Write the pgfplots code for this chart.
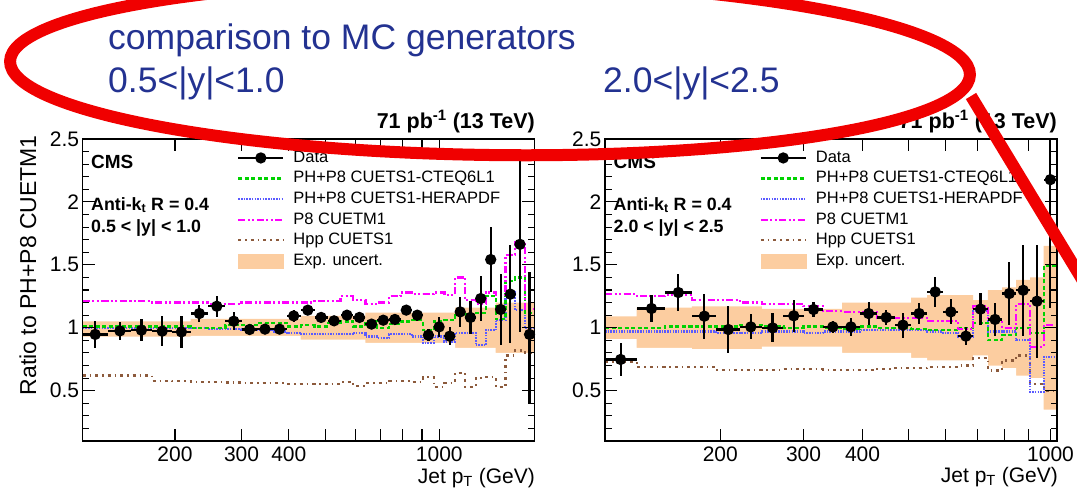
\documentclass[border=0pt]{standalone}
\usepackage{fontspec}
\setmainfont{Liberation Sans}
\usepackage{pgfplots}
\pgfplotsset{compat=1.18}
\usepackage{pgfplotstable}
\newcommand\fs[1]{\fontsize{#1}{#1}\selectfont}
\definecolor{cmsgreen}{RGB}{0,210,0}
\definecolor{cmsblue}{RGB}{90,90,255}
\definecolor{cmsmag}{RGB}{255,0,255}
\definecolor{cmsbrown}{RGB}{140,90,60}
\definecolor{band}{RGB}{252,205,160}
\definecolor{titleblue}{RGB}{35,50,145}
\definecolor{annot}{RGB}{240,0,0}

% left panel, MC histograms (left bin edge, value) and exp. uncertainty band
\pgfplotstableread{
e g b m h bu bd
114 1.01 1.00 1.21 0.62 1.05 0.93
133 1.01 1.00 1.21 0.62 1.05 0.93
153 1.01 1.00 1.21 0.62 1.05 0.93
174 1.01 1.00 1.20 0.58 1.05 0.93
196 1.01 1.00 1.20 0.575 1.05 0.93
220 1.00 0.995 1.20 0.57 1.07 0.935
245 1.00 0.99 1.19 0.57 1.07 0.935
272 1.02 0.99 1.19 0.565 1.07 0.935
300 1.02 0.985 1.20 0.56 1.07 0.935
330 1.04 0.985 1.20 0.56 1.07 0.935
362 1.04 0.97 1.20 0.56 1.07 0.935
395 1.01 0.96 1.20 0.555 1.07 0.935
430 1.02 0.95 1.20 0.555 1.095 0.905
468 1.01 0.95 1.215 0.555 1.095 0.905
507 1.04 0.95 1.215 0.555 1.095 0.905
548 1.05 0.95 1.25 0.57 1.095 0.905
592 1.01 0.96 1.22 0.54 1.095 0.905
638 1.05 0.93 1.19 0.56 1.12 0.88
686 1.00 0.92 1.20 0.56 1.12 0.88
737 1.03 0.95 1.25 0.58 1.12 0.88
790 1.05 0.95 1.28 0.58 1.12 0.88
846 1.06 0.93 1.27 0.57 1.12 0.88
905 0.98 0.88 1.27 0.61 1.12 0.88
967 1.05 0.93 1.28 0.53 1.12 0.88
1032 1.06 0.89 1.26 0.56 1.12 0.88
1101 1.10 0.96 1.40 0.64 1.16 0.84
1172 1.11 0.96 1.22 0.53 1.16 0.84
1248 1.12 0.86 1.19 0.60 1.16 0.84
1327 1.25 0.98 1.28 0.61 1.16 0.84
1410 1.07 1.06 1.26 0.53 1.20 0.80
1497 1.37 1.28 1.58 0.78 1.20 0.80
1588 1.40 1.14 1.68 0.82 1.20 0.80
1684 1.12 1.00 1.15 0.80 1.20 0.80
1784 1.12 1.00 1.15 0.80 1.20 0.80
}\mcL

% left panel, data
\pgfplotstableread{
x y lo hi eym eyp
123 0.947 114 133 0.11 0.11
143 0.975 133 153 0.07 0.07
163 0.981 153 174 0.09 0.09
185 0.973 174 196 0.12 0.12
208 0.967 196 220 0.13 0.13
232 1.113 220 245 0.07 0.07
258 1.171 245 272 0.085 0.085
286 1.052 272 300 0.07 0.07
315 0.986 300 330 0.02 0.02
346 0.989 330 362 0.025 0.025
378 0.989 362 395 0.025 0.025
412 1.094 395 430 0.045 0.045
449 1.14 430 468 0.03 0.03
487 1.082 468 507 0.03 0.03
527 1.055 507 548 0.02 0.02
570 1.10 548 592 0.03 0.03
615 1.082 592 638 0.03 0.03
662 1.029 638 686 0.03 0.03
711 1.06 686 737 0.03 0.03
763 1.066 737 790 0.03 0.03
818 1.14 790 846 0.04 0.04
875 1.10 846 905 0.045 0.045
936 0.941 905 967 0.05 0.05
999 1.007 967 1032 0.08 0.08
1066 0.933 1032 1101 0.07 0.07
1136 1.126 1101 1172 0.12 0.12
1209 1.082 1172 1248 0.13 0.13
1287 1.232 1248 1327 0.18 0.18
1368 1.542 1327 1410 0.26 0.26
1453 1.145 1410 1497 0.28 0.28
1542 1.267 1497 1588 0.39 0.39
1635 1.663 1588 1684 0.70 0.70
1733 0.947 1684 1784 0.55 0.50
}\dataL

% right panel, MC histograms and band
\pgfplotstableread{
e g b m h bu bd
114 1.00 0.97 1.267 0.73 1.09 0.91
133 1.00 0.97 1.25 0.69 1.16 0.84
153 1.01 0.97 1.26 0.69 1.16 0.84
174 1.01 0.97 1.22 0.69 1.17 0.83
196 1.01 0.96 1.22 0.665 1.17 0.83
220 1.02 0.96 1.20 0.665 1.17 0.83
245 1.01 0.97 1.19 0.665 1.15 0.85
272 1.00 0.97 1.19 0.67 1.15 0.85
300 1.01 0.96 1.17 0.67 1.15 0.85
330 1.00 0.97 1.13 0.665 1.15 0.85
362 0.99 0.97 1.126 0.665 1.20 0.80
395 1.01 0.98 1.126 0.665 1.20 0.80
430 1.00 0.98 1.08 0.67 1.20 0.80
468 1.00 0.98 1.08 0.68 1.20 0.80
507 0.99 0.98 1.08 0.68 1.24 0.76
548 0.98 0.97 1.055 0.69 1.26 0.74
592 0.98 0.96 1.055 0.69 1.26 0.74
638 1.00 0.93 0.99 0.70 1.26 0.74
686 1.04 1.13 1.17 0.76 1.22 0.78
737 0.90 0.97 1.07 0.66 1.30 0.70
790 0.94 0.97 1.00 0.74 1.32 0.68
846 1.00 0.90 1.19 0.78 1.38 0.62
905 0.96 0.49 0.85 0.55 1.40 0.60
967 1.49 0.77 1.02 0.50 1.65 0.35
1032 1.49 0.77 1.02 0.50 1.65 0.35
}\mcR

% right panel, data
\pgfplotstableread{
x y lo hi eym eyp
123 0.748 114 133 0.13 0.13
143 1.153 133 153 0.11 0.11
163 1.28 153 174 0.15 0.15
185 1.092 174 196 0.18 0.18
208 0.986 196 220 0.19 0.19
232 1.007 220 245 0.10 0.10
258 0.999 245 272 0.115 0.115
286 1.095 272 300 0.125 0.125
315 1.145 300 330 0.06 0.06
346 1.007 330 362 0.05 0.05
378 1.007 362 395 0.07 0.07
412 1.113 395 430 0.09 0.09
449 1.082 430 468 0.06 0.06
487 1.021 468 507 0.10 0.10
527 1.113 507 548 0.08 0.08
570 1.285 548 592 0.12 0.12
615 1.126 592 638 0.10 0.10
662 0.933 638 686 0.07 0.07
711 1.148 686 737 0.13 0.13
763 1.066 737 790 0.13 0.13
818 1.272 790 846 0.25 0.25
875 1.298 846 905 0.36 0.36
936 1.211 905 967 0.45 0.45
999 2.177 967 1032 1.02 0.33
}\dataR

\tikzset{
  gline/.style={cmsgreen, line width=2.2pt, dash pattern=on 4pt off 2.5pt},
  bline/.style={cmsblue, line width=2.2pt, dash pattern=on 1.5pt off 1.2pt},
  mline/.style={cmsmag, line width=2.2pt, dash pattern=on 7pt off 2.5pt on 2pt off 2.5pt on 2pt off 2.5pt},
  hline/.style={cmsbrown, line width=2.2pt, dash pattern=on 3pt off 4pt on 1.5pt off 4pt},
  dstyle/.style={black, line width=2.2pt, mark=*, mark size=4.5pt},
}
\pgfplotsset{
  legline/.style={legend image code/.code={\draw[##1] (0pt,0pt) -- (45pt,0pt);}},
  legdata/.style={legend image code/.code={\draw[##1] (0pt,0pt) -- (45pt,0pt);
      \draw[##1, mark repeat=2, mark phase=2] plot coordinates {(0pt,0pt) (22.5pt,0pt) (45pt,0pt)};}},
  legband/.style={legend image code/.code={\fill[band] (0pt,-7pt) rectangle (45pt,7pt);}},
}

\newcommand\panel[2]{%
  \addlegendimage{dstyle, legdata}
  \addlegendentry{Data}
  \addlegendimage{gline, legline}
  \addlegendentry{PH+P8 CUETS1-CTEQ6L1}
  \addlegendimage{bline, legline}
  \addlegendentry{PH+P8 CUETS1-HERAPDF}
  \addlegendimage{mline, legline}
  \addlegendentry{P8 CUETM1}
  \addlegendimage{hline, legline}
  \addlegendentry{Hpp CUETS1}
  \addlegendimage{legband}
  \addlegendentry{Exp. uncert.}
  \addplot[fill=band, draw=none, const plot mark left, forget plot] table[x=e, y=bu] {#1} \closedcycle;
  \addplot[fill=white, draw=none, const plot mark left, forget plot] table[x=e, y=bd] {#1} \closedcycle;
  \addplot[hline, const plot mark left, forget plot] table[x=e, y=h] {#1};
  \addplot[bline, const plot mark left, forget plot] table[x=e, y=b] {#1};
  \addplot[gline, const plot mark left, forget plot] table[x=e, y=g] {#1};
  \addplot[mline, const plot mark left, forget plot] table[x=e, y=m] {#1};
  \addplot[dstyle, only marks, forget plot,
    error bars/.cd, x dir=both, x explicit, y dir=both, y explicit, error mark=none,
    error bar style={line width=2.2pt, black, solid}]
    table[x=x, y=y,
      x error minus expr=\thisrow{x}-\thisrow{lo},
      x error plus expr=\thisrow{hi}-\thisrow{x},
      y error minus=eym, y error plus=eyp] {#2};
}

\begin{document}
\begin{tikzpicture}
\path[use as bounding box] (0pt,0pt) rectangle (1077pt,-491pt);

\begin{axis}[at={(82.7pt,-441pt)}, anchor=south west, width=451.6pt, xmin=114, xmax=1784,
    xmode=log, scale only axis, height=302pt,
    ymin=0.1, ymax=2.5,
    ytick={0.5,1,1.5,2,2.5}, yticklabels={0.5,1,1.5,2,2.5},
    minor ytick={0.2,0.3,0.4,0.6,0.7,0.8,0.9,1.1,1.2,1.3,1.4,1.6,1.7,1.8,1.9,2.1,2.2,2.3,2.4},
    xtick={200,300,400,500,600,700,800,900,1000},
    xticklabels={200,300,400,,,,,,1000},
    minor x tick num=0,
    tick align=inside, major tick length=12pt, minor tick length=6.5pt,
    axis line style={line width=1.3pt, black},
    tick style={line width=1.1pt, black},
    tick label style={font=\fs{21}},
    yticklabel style={inner sep=0pt, xshift=-3.4pt},
    xticklabel style={inner sep=0pt, yshift=-5.7pt},
    axis on top,
    legend cell align=left,
    legend style={at={(rel axis cs:0.3417,0.9636)}, anchor=north west,
      draw=none, fill=none, inner sep=0pt, font=\fs{16.5}, row sep=5.1pt,
      /tikz/every odd column/.append style={column sep=9pt},
      nodes={inner sep=0pt, text height=12pt, text depth=3.5pt}}]
\panel{\mcL}{\dataL}
\end{axis}

\begin{axis}[at={(605pt,-441pt)}, anchor=south west, width=452pt, xmin=114, xmax=1032,
    xmode=log, scale only axis, height=302pt,
    ymin=0.1, ymax=2.5,
    ytick={0.5,1,1.5,2,2.5}, yticklabels={0.5,1,1.5,2,2.5},
    minor ytick={0.2,0.3,0.4,0.6,0.7,0.8,0.9,1.1,1.2,1.3,1.4,1.6,1.7,1.8,1.9,2.1,2.2,2.3,2.4},
    xtick={200,300,400,500,600,700,800,900,1000},
    xticklabels={200,300,400,,,,,,1000},
    minor x tick num=0,
    tick align=inside, major tick length=12pt, minor tick length=6.5pt,
    axis line style={line width=1.3pt, black},
    tick style={line width=1.1pt, black},
    tick label style={font=\fs{21}},
    yticklabel style={inner sep=0pt, xshift=-3.4pt},
    xticklabel style={inner sep=0pt, yshift=-5.7pt},
    axis on top,
    legend cell align=left,
    legend style={at={(rel axis cs:0.3417,0.9636)}, anchor=north west,
      draw=none, fill=none, inner sep=0pt, font=\fs{16.5}, row sep=5.1pt,
      /tikz/every odd column/.append style={column sep=9pt},
      nodes={inner sep=0pt, text height=12pt, text depth=3.5pt}}]
\panel{\mcR}{\dataR}
\end{axis}

% axis titles and labels
\node[rotate=90, anchor=base east, inner sep=0pt, font=\fs{23}] at (36pt,-135pt) {Ratio to PH+P8 CUETM1};
\node[anchor=base east, inner sep=0pt, font=\fs{21}] at (535pt,-483pt) {Jet p\textsubscript{T} (GeV)};
\node[anchor=base east, inner sep=0pt, font=\fs{21}] at (1058pt,-482pt) {Jet p\textsubscript{T} (GeV)};

\node[anchor=base east, inner sep=0pt, font=\bfseries\fs{21.5}] at (535pt,-128.5pt) {71 pb\textsuperscript{-1} (13 TeV)};
\node[anchor=base east, inner sep=0pt, font=\bfseries\fs{21.5}] at (1057pt,-128.5pt) {71 pb\textsuperscript{-1} (13 TeV)};

\node[anchor=base west, inner sep=0pt, font=\bfseries\fs{19}] at (91pt,-168pt) {CMS};
\node[anchor=base west, inner sep=0pt, font=\bfseries\fs{17.8}] at (91pt,-210pt) {Anti-k\textsubscript{t} R = 0.4};
\node[anchor=base west, inner sep=0pt, font=\bfseries\fs{17.8}] at (91pt,-232pt) {0.5 < |y| < 1.0};

\node[anchor=base west, inner sep=0pt, font=\bfseries\fs{19}] at (613.5pt,-168pt) {CMS};
\node[anchor=base west, inner sep=0pt, font=\bfseries\fs{17.8}] at (613.5pt,-210pt) {Anti-k\textsubscript{t} R = 0.4};
\node[anchor=base west, inner sep=0pt, font=\bfseries\fs{17.8}] at (613.5pt,-232pt) {2.0 < |y| < 2.5};

% slide annotation text
\node[anchor=base west, inner sep=0pt, font=\fs{35.5}, text=titleblue] at (108pt,-49pt) {comparison to MC generators};
\node[anchor=base west, inner sep=0pt, font=\fs{35.5}, text=titleblue] at (108pt,-92pt) {0.5<|y|<1.0};
\node[anchor=base west, inner sep=0pt, font=\fs{35.5}, text=titleblue] at (603pt,-92pt) {2.0<|y|<2.5};

% red hand-drawn marks
\draw[annot, line width=12pt, rotate around={-0.8:(490pt,-68pt)}] (490pt,-68pt) ellipse [x radius=480pt, y radius=87pt];
\draw[annot, line width=12pt] (971pt,-96pt) -- (1090pt,-292.4pt);
\end{tikzpicture}
\end{document}
